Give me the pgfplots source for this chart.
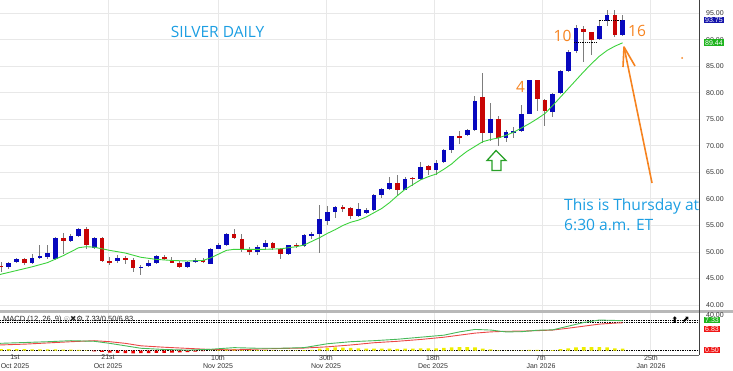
\documentclass[border=0pt]{standalone}
\usepackage{fontspec}
\usepackage{pgfplots}
\usepackage{pgfplotstable}
\pgfplotsset{compat=1.18}
\setmainfont{Liberation Sans}
\newfontfamily\osans{Open Sans}
\newfontfamily\dejavu{DejaVu Sans}

\definecolor{upc}{RGB}{8,8,190}
\definecolor{dnc}{RGB}{200,5,5}
\definecolor{wick}{RGB}{125,125,125}
\definecolor{maG}{RGB}{60,210,60}
\definecolor{titleblue}{RGB}{28,158,226}
\definecolor{orng}{RGB}{246,131,31}
\definecolor{arrowgreen}{RGB}{40,160,40}
\definecolor{macdG}{RGB}{70,185,90}
\definecolor{macdR}{RGB}{235,70,70}
\definecolor{histY}{RGB}{238,238,0}
\definecolor{histR}{RGB}{235,0,0}
\definecolor{boxblue}{RGB}{20,20,170}
\definecolor{boxgreen}{RGB}{30,180,30}
\definecolor{boxred}{RGB}{240,20,20}

\pgfplotstableread{
i o h l c
0 47.35 48.1 46.3 47.2
1 47.1 48.2 46.7 47.9
2 48.1 48.9 47.9 48.6
3 48.6 48.9 47.5 48.0
4 47.9 49.7 47.8 48.9
5 48.9 51.3 48.6 49.2
6 49.1 51.3 48.6 49.8
7 48.6 52.8 48.4 52.6
8 52.6 53.6 49.7 52.0
9 52.0 53.4 51.8 53.1
10 53.1 54.5 52.8 54.4
11 54.4 54.7 50.6 51.25
12 50.75 52.8 50.6 52.6
13 52.6 52.8 48.1 48.25
14 48.25 49.0 47.5 48.15
15 48.25 49.4 47.9 48.9
16 48.9 49.3 47.7 48.6
17 48.5 48.9 46.25 46.9
18 47.0 47.5 45.6 47.25
19 47.3 48.4 47.2 48.0
20 47.9 49.4 47.8 49.2
21 49.1 49.5 48.4 48.75
22 48.3 49.1 47.9 48.1
23 48.0 48.25 47.0 47.1
24 47.1 48.25 47.0 48.1
25 48.2 48.9 47.9 48.4
26 48.35 48.9 47.9 48.25
27 47.8 50.75 47.7 50.6
28 50.6 51.6 50.5 51.4
29 51.4 53.6 51.1 53.3
30 53.3 54.4 52.4 52.6
31 52.5 53.4 50.0 50.3
32 50.4 50.9 49.5 50.0
33 50.0 51.4 49.4 50.9
34 50.9 52.3 50.6 51.7
35 51.6 51.8 50.4 50.7
36 50.6 50.8 48.7 49.7
37 49.6 51.4 49.5 51.3
38 51.3 51.6 50.7 51.2
39 51.1 53.3 51.0 53.2
40 53.2 53.8 52.4 53.35
41 53.3 58.9 49.9 56.2
42 55.9 58.7 55.0 57.6
43 57.5 58.7 56.5 58.4
44 58.4 58.8 57.6 58.3
45 58.2 58.5 56.3 56.8
46 56.8 59.3 56.6 58.1
47 57.4 58.2 57.2 58.0
48 57.9 60.9 57.8 60.7
49 60.8 62.0 60.1 61.85
50 61.85 64.2 61.7 63.0
51 63.0 64.6 60.8 61.7
52 61.7 64.1 61.6 63.75
53 63.95 64.1 62.4 63.85
54 63.8 67.0 63.6 66.1
55 66.25 66.4 64.5 65.5
56 65.5 67.4 64.6 66.75
57 66.9 69.4 66.8 69.15
58 69.15 71.9 68.6 71.8
59 71.8 72.8 70.3 71.65
60 72.1 73.2 71.8 73.05
61 73.05 79.5 72.9 78.5
62 79.2 83.7 70.5 72.5
63 72.5 78.0 70.9 75.05
64 75.05 75.7 70.0 71.5
65 71.4 73.0 70.8 72.7
66 72.55 73.6 71.4 72.7
67 72.8 77.7 72.7 76.0
68 76.1 82.5 76.0 82.4
69 82.4 82.5 76.5 78.8
70 78.6 78.9 73.75 76.6
71 76.45 79.9 75.5 79.7
72 79.9 84.4 79.8 84.1
73 84.2 88.0 84.0 87.8
74 87.8 92.8 87.6 92.2
75 92.0 92.6 85.9 91.4
76 91.4 91.5 87.1 90.0
77 90.1 93.6 90.0 92.6
78 93.6 95.6 92.6 94.7
79 94.7 95.6 90.5 91.0
80 91.0 94.6 90.7 93.75
}\candles

\newcommand{\dlab}[3]{\node[font=\fontsize{7}{8}\selectfont, text=black!80] at (#1,12.5) {#2};
  \node[font=\fontsize{7}{8}\selectfont, text=black!80] at (#1,3.5) {#3};}

\begin{document}
\begin{tikzpicture}
\useasboundingbox (0pt,0pt) rectangle (733pt,370pt);

% ---------------- main price pane ----------------
\begin{axis}[
  at={(0pt,59pt)}, anchor=south west, scale only axis,
  width=699pt, height=311pt,
  xmin=-0.13, xmax=89.83, ymin=38.87, ymax=97.51,
  axis line style={draw=none},
  major tick length=0pt,
  xtick={13.77,27.93,41.83,55.73,69.63,83.53}, xticklabels={},
  ytick={40,45,...,95},
  yticklabel pos=right,
  yticklabel style={font=\fontsize{7}{8}\selectfont, text=black!80, anchor=west, inner sep=0pt, xshift=7pt,
    /pgf/number format/fixed, /pgf/number format/fixed zerofill, /pgf/number format/precision=2,
    /pgf/number format/assume math mode=true},
  grid=major, grid style={draw=black!9, line width=0.9pt},
]
% wicks
\addplot[draw=none, mark=none,
  error bars/.cd, y dir=both, y explicit, error mark=none,
  error bar style={line width=1pt, draw=wick, solid}]
  table[x=i, y expr={(\thisrow{h}+\thisrow{l})/2}, y error expr={(\thisrow{h}-\thisrow{l})/2}] {\candles};
% up bodies
\addplot[draw=none, mark=none,
  restrict expr to domain={\thisrow{c}-\thisrow{o}}{0:100},
  error bars/.cd, y dir=both, y explicit, error mark=none,
  error bar style={line width=4.7pt, draw=upc, solid}]
  table[x=i, y expr={(\thisrow{o}+\thisrow{c})/2}, y error expr={max(abs(\thisrow{c}-\thisrow{o})/2,0.12)}] {\candles};
% down bodies
\addplot[draw=none, mark=none,
  restrict expr to domain={\thisrow{c}-\thisrow{o}}{-100:-0.0001},
  error bars/.cd, y dir=both, y explicit, error mark=none,
  error bar style={line width=4.7pt, draw=dnc, solid}]
  table[x=i, y expr={(\thisrow{o}+\thisrow{c})/2}, y error expr={max(abs(\thisrow{c}-\thisrow{o})/2,0.12)}] {\candles};
% moving average
\addplot[draw=maG, line width=0.9pt] coordinates {
(-0.2,45.7) (0,45.8) (2,46.5) (4,47.2) (6,48.0) (8,49.3) (10,50.8) (11,51.0) (12,50.9) (13,50.6) (14,50.3)
(16,49.8) (18,49.0) (20,48.6) (22,48.4) (24,48.3) (26,48.4) (27,48.9) (28,49.6) (29,50.3)
(30,50.5) (32,50.5) (34,50.5) (36,50.6) (38,51.0) (39,51.3) (40,52.0) (41,52.7) (42,53.5)
(43,54.2) (44,55.0) (45,55.6) (46,56.0) (47,56.6) (48,57.4) (49,58.2) (50,59.3) (51,60.6)
(52,61.8) (53,62.7) (54,63.6) (55,64.2) (56,64.7) (57,65.6) (58,66.6) (59,67.9) (60,69.0)
(61,69.9) (62,70.8) (63,71.2) (64,71.5) (65,72.0) (66,72.6) (67,73.4) (68,74.2) (69,75.1)
(70,76.1) (71,77.6) (72,79.2) (73,80.8) (74,82.4) (75,84.0) (76,85.5) (77,86.9) (78,88.0)
(79,88.8) (80,89.44)};
\addplot[black, densely dotted, line width=0.8pt] coordinates {(73.8,89.44) (76.6,89.44)};
\addplot[black, densely dotted, line width=0.8pt] coordinates {(76.9,93.75) (79.7,93.75)};
\end{axis}

% ---------------- MACD pane ----------------
\begin{axis}[
  at={(0pt,15pt)}, anchor=south west, scale only axis,
  width=699pt, height=42pt,
  xmin=-0.13, xmax=89.83, ymin=-1.05, ymax=9.22,
  axis line style={draw=none},
  major tick length=0pt,
  xtick={13.77,27.93,41.83,55.73,69.63,83.53}, xticklabels={},
  ytick=\empty,
  xmajorgrids, grid style={draw=black!9, line width=0.9pt},
]
\addplot[black, densely dotted, line width=0.7pt] coordinates {(-0.13,7.33) (89.83,7.33)};
\addplot[black, densely dotted, line width=0.7pt] coordinates {(-0.13,6.83) (89.83,6.83)};
\addplot[black, densely dotted, line width=0.7pt] coordinates {(-0.13,0) (89.83,0)};
\addplot[ybar, bar width=3.6pt, bar shift=0pt, fill=histY, draw=none] coordinates {
(0,.4) (1,.4) (2,.4) (3,.4) (4,.35) (5,.35) (6,.3) (7,.3) (8,.25) (9,.25) (10,.2) (11,.1)
(27,.05) (28,.15) (29,.3) (30,.4) (31,.35) (32,.3) (33,.2) (34,.15) (35,.1) (36,.08) (37,.1) (38,.1)
(39,.12) (40,.2) (41,.5) (42,.7) (43,.8) (44,.75) (45,.7) (46,.6) (47,.5) (48,.5) (49,.5) (50,.5)
(51,.45) (52,.5) (53,.5) (54,.55) (55,.6) (56,.6) (57,.7) (58,.8) (59,.9) (60,.9) (61,.8) (62,.5)
(63,.3) (64,.1) (65,.05) (66,.05) (67,.1) (68,.2) (69,.2) (70,.1) (71,.15) (72,.4) (73,.6) (74,.8)
(75,.9) (76,.9) (77,.85) (78,.8) (79,.6) (80,.5)};
\addplot[ybar, bar width=3.6pt, bar shift=0pt, fill=histR, draw=none] coordinates {
(12,-.15) (13,-.3) (14,-.45) (15,-.55) (16,-.6) (17,-.65) (18,-.6) (19,-.6) (20,-.55) (21,-.5)
(22,-.45) (23,-.4) (24,-.35) (25,-.25) (26,-.1)};
\addplot[draw=macdR, line width=0.9pt] coordinates {
(-0.2,1.4) (3,1.6) (6,1.9) (9,2.2) (12,2.45) (14,2.2) (16,1.8) (18,1.2) (21,0.85) (24,0.57)
(27,0.3) (30,0.2) (33,0.4) (36,0.55) (39,0.65) (42,0.95) (45,1.4) (48,1.95) (51,2.3) (54,2.75)
(57,3.3) (59,3.8) (61,4.3) (63,4.6) (65,4.75) (67,4.8) (69,4.9) (71,5.05) (73,5.5) (75,6.0)
(77,6.5) (79,6.75) (80,6.83)};
\addplot[draw=macdG, line width=0.9pt] coordinates {
(-0.2,1.8) (3,2.0) (6,2.2) (9,2.45) (12,2.3) (14,1.8) (16,1.2) (18,0.6) (21,0.3) (24,0.15)
(27,0.35) (30,0.75) (33,0.6) (36,0.6) (39,0.75) (42,1.7) (45,2.2) (48,2.45) (51,2.8) (54,3.3)
(57,3.8) (59,4.6) (61,5.2) (63,5.05) (65,4.6) (67,4.65) (69,5.0) (71,5.1) (73,6.0) (75,6.9)
(77,7.5) (79,7.4) (80,7.33)};
\end{axis}

\begin{scope}[x=1pt,y=1pt]
% frame
\fill[black!28] (0,57) rectangle (733,59.6);
\draw[black!75, line width=0.8pt] (699,15) -- (699,370);
\draw[black!60, line width=0.8pt] (0,15) -- (699,15);

% right-side value boxes
\node[font=\fontsize{7}{8}\selectfont, fill=boxblue, text=white, inner xsep=1.5pt, inner ysep=1pt, anchor=west] at (703.5,350) {93.75};
\node[font=\fontsize{7}{8}\selectfont, fill=boxgreen, text=white, inner xsep=1.5pt, inner ysep=1pt, anchor=west] at (703.5,327.2) {89.44};
\node[font=\fontsize{7}{8}\selectfont, text=black!80, inner sep=0pt, anchor=west] at (706,54.5) {40.00};
\node[font=\fontsize{7}{8}\selectfont, fill=boxgreen, text=white, inner xsep=1.5pt, inner ysep=1pt, anchor=west] at (703.5,50) {7.33};
\node[font=\fontsize{7}{8}\selectfont, fill=boxred, text=white, inner xsep=1.5pt, inner ysep=1pt, anchor=west] at (703.5,41) {6.83};
\node[font=\fontsize{7}{8}\selectfont, fill=boxred, text=white, inner xsep=1.5pt, inner ysep=1pt, anchor=west] at (703.5,20) {0.50};

% MACD legend text and icons
\node[font=\fontsize{7.5}{8}\selectfont, text=black!85, anchor=west, inner sep=0pt] at (3,50)
  {MACD (12, 26, 9) {\dejavu\color{black!40}◎}{\dejavu ✖⚙} 7.33/0.50/6.83};
\node[font=\dejavu\fontsize{9}{9}\selectfont, anchor=center, inner sep=0pt] at (675,50) {⬆};
\node[font=\dejavu\fontsize{9}{9}\selectfont, anchor=center, inner sep=0pt] at (686,50) {⬈};

% date labels
\dlab{15}{1st}{Oct 2025}
\dlab{108}{21st}{Oct 2025}
\dlab{218}{10th}{Nov 2025}
\dlab{326}{30th}{Nov 2025}
\dlab{433}{18th}{Dec 2025}
\dlab{541}{7th}{Jan 2026}
\dlab{651}{25th}{Jan 2026}

% annotations
\node[font=\osans\fontsize{15.5}{16}\selectfont, text=titleblue] at (217.5,338) {SILVER DAILY};
\node[font=\osans\fontsize{15.5}{16}\selectfont, text=orng] at (520.5,283.5) {4};
\node[font=\osans\fontsize{15.5}{16}\selectfont, text=orng] at (562.5,334) {10};
\node[font=\osans\fontsize{15.5}{16}\selectfont, text=orng] at (637,339) {16};
\node[font=\osans\fontsize{15.6}{20}\selectfont, text=titleblue, anchor=base west, inner sep=0pt] at (564,159.3) {This is Thursday at};
\node[font=\osans\fontsize{15.6}{20}\selectfont, text=titleblue, anchor=base west, inner sep=0pt] at (564,139.3) {6:30 a.m. ET};
\draw[orng, line width=1.6pt] (652,187) -- (624,323);
\draw[orng, line width=1.6pt, line join=round] (623,303) -- (624,323) -- (635,304);
\fill[orng] (682,312) circle (1pt);
\draw[arrowgreen, line width=1.3pt, line join=miter] (496,219.5) -- (487,209.5) -- (492,209.5) -- (492,199.5) -- (501,199.5) -- (501,209.5) -- (506,209.5) -- cycle;
\end{scope}
\end{tikzpicture}
\end{document}
